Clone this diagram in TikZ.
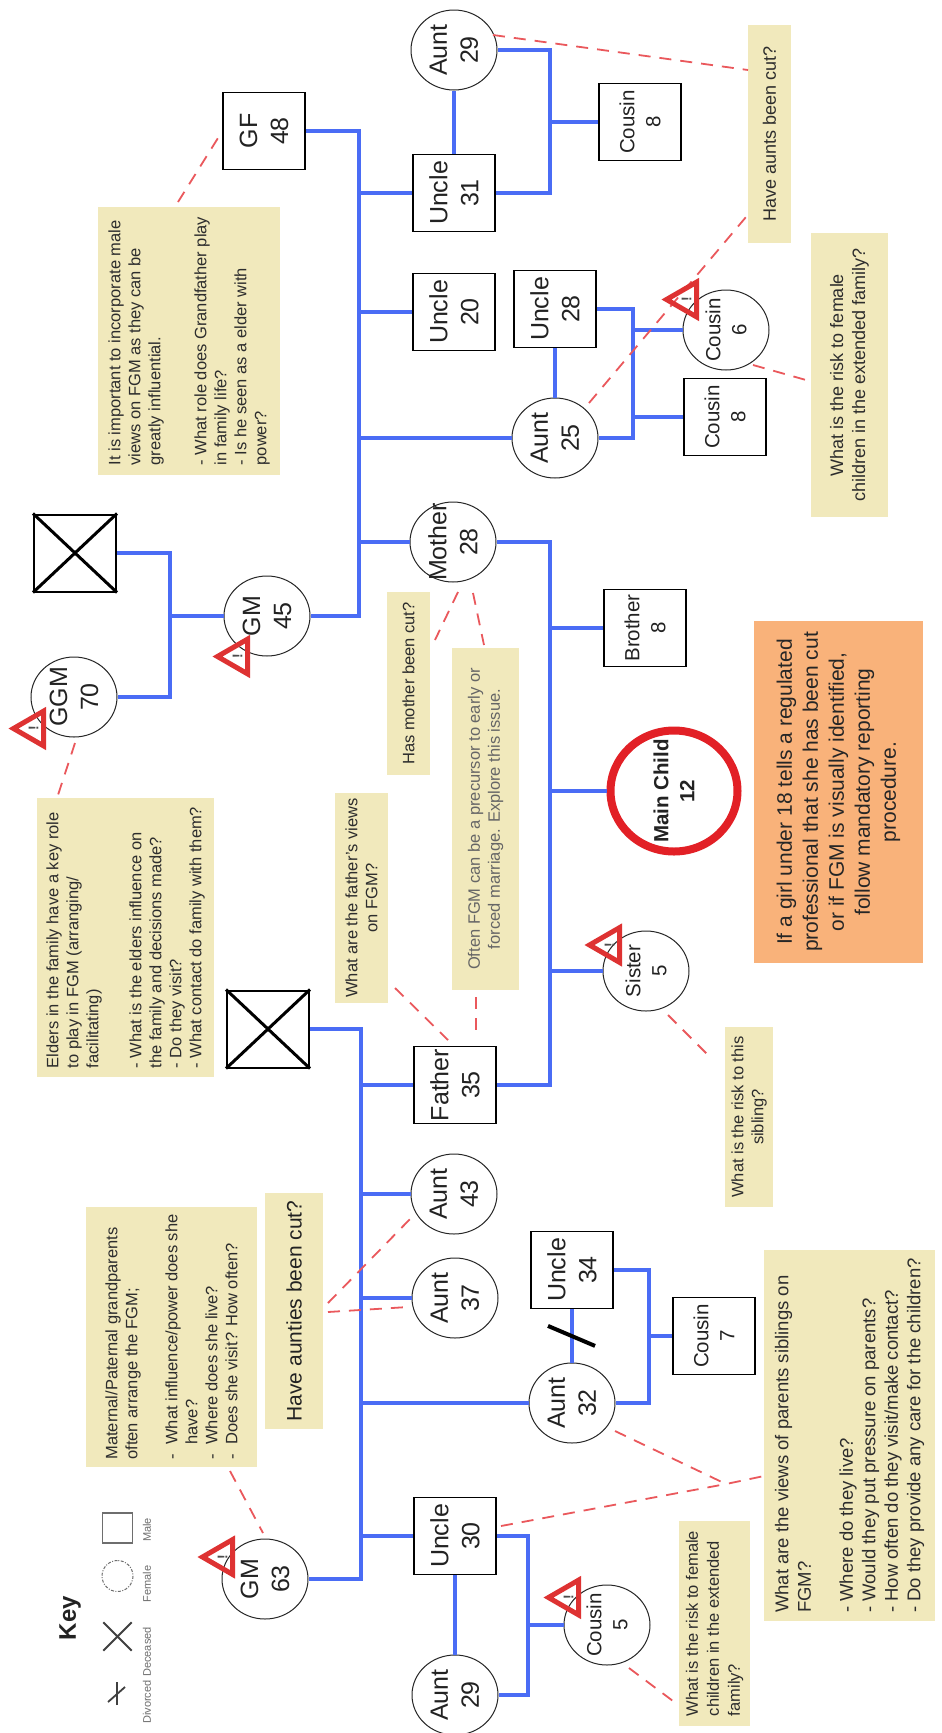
\documentclass[tikz,border=0pt]{standalone}
\usepackage{fontspec}
\setmainfont{Liberation Sans}
\usetikzlibrary{shapes.geometric,calc}
\definecolor{kin}{RGB}{74,108,245}
\definecolor{notefill}{RGB}{241,233,188}
\definecolor{orangefill}{RGB}{249,178,122}
\definecolor{dashred}{RGB}{234,88,92}
\definecolor{warnred}{RGB}{222,50,50}
\definecolor{ringred}{RGB}{226,32,38}
\definecolor{txt}{RGB}{34,34,34}
\definecolor{notetxt}{RGB}{45,45,45}
\definecolor{keygray}{RGB}{110,110,110}
\newcommand\zb[1]{\makebox[0pt]{#1}}
\tikzset{
 kinline/.style={draw=kin, line width=4.5pt},
 male/.style={draw=black, line width=1.6pt, fill=white, rectangle, minimum width=77pt, minimum height=82pt, inner sep=0pt, align=center, font=\fontsize{25}{31}\selectfont, text=txt},
 female/.style={draw=black!85, line width=1pt, fill=white, ellipse, minimum width=80pt, minimum height=86pt, inner sep=0pt, align=center, font=\fontsize{25}{31}\selectfont, text=txt},
 kid/.style={font=\fontsize{20.5}{26}\selectfont},
 mainchild/.style={draw=ringred, line width=8pt, fill=white, ellipse, minimum width=121pt, minimum height=127pt, inner sep=0pt, align=center, font=\bfseries\fontsize{20.5}{26}\selectfont, text=txt},
 deceased/.style={draw=black, line width=2pt, rectangle, minimum width=77pt, minimum height=82pt, inner sep=0pt},
 note/.style={fill=notefill, rectangle, inner sep=0pt, align=left, font=\fontsize{16.5}{20}\selectfont, text=notetxt},
 noteline/.style={draw=dashred, line width=1.8pt, dash pattern=on 12pt off 9pt},
 warn/.style={regular polygon, regular polygon sides=3, draw=warnred, line width=5pt, minimum size=40pt, inner sep=0pt, font=\bfseries\fontsize{14}{14}\selectfont, text=black!70},
 keylabel/.style={font=\fontsize{11}{13}\selectfont, text=keygray, inner sep=0pt},
}
\begin{document}
\begin{tikzpicture}[x=1pt,y=-1pt]
\begin{scope}[shift={(0pt,-1733pt)},rotate=90,transform shape]
\useasboundingbox (0,0) rectangle (1733,942);
\fill[white] (0,0) rectangle (1733,942);

% ---------- note boxes ----------
\node[note, minimum width=268pt, minimum height=182pt] (n1) at (1392,189) {It is important to incorporate male\\views on FGM as they can be\\greatly influential.\\[26pt]- What role does Grandfather play\\in family life?\\- Is he seen as a elder with\\power?};
\node[note, minimum width=279pt, minimum height=177pt] (n2) at (795.5,125.5) {Elders in the family have a key role\\to play in FGM (arranging/\\facilitating)\\[23pt]- What is the elders influence on\\the family and decisions made?\\- Do they visit?\\- What contact do family with them?};
\node[note, minimum width=260pt, minimum height=171pt] (n3) at (396,171.5) {Maternal/Paternal grandparents\\often arrange the FGM;\\[20pt]\makebox[15pt][l]{-}What influence/power does she\\\hspace*{15pt}have?\\\makebox[15pt][l]{-}Where does she live?\\\makebox[15pt][l]{-}Does she visit? How often?};
\node[note, font=\fontsize{18.5}{22.5}\selectfont, minimum width=371pt, minimum height=171pt] (n4) at (297.5,849.5) {What are the views of parents siblings on\\FGM?\\[19.5pt]- Where do they live?\\- Would they put pressure on parents?\\- How often do they visit/make contact?\\- Do they provide any care for the children?};
\node[note, align=center, text=black!60, minimum width=342pt, minimum height=67pt] (n5) at (914,485.5) {Often FGM can be a precursor to early or\\forced marriage. Explore this issue.};
\node[note, align=center, minimum width=210pt, minimum height=53pt] (n6) at (835,361.5) {What are the father's views\\on FGM?};
\node[note, minimum width=183pt, minimum height=43pt] (n7) at (1049.5,408.5) {Has mother been cut?};
\node[note, font=\fontsize{18}{22}\selectfont, minimum width=218pt, minimum height=43pt] (n8) at (1599,769.5) {Have aunts been cut?};
\node[note, align=center, font=\fontsize{18}{22}\selectfont, minimum width=284pt, minimum height=77pt] (n9) at (1358,849.5) {What is the risk to female\\children in the extended family?};
\node[note, font=\fontsize{16.5}{21}\selectfont, minimum width=205pt, minimum height=71pt] (n10) at (109.5,714.5) {What is the risk to female\\children in the extended\\family?};
\node[note, font=\fontsize{21}{25}\selectfont, text=txt, minimum width=236pt, minimum height=58pt] (n11) at (422,294) {Have aunties been cut?};
\node[note, fill=orangefill, align=center, font=\fontsize{21}{26}\selectfont, text=black!85, minimum width=342pt, minimum height=169pt] (n12) at (941,838.5) {If a girl under 18 tells a regulated\\professional that she has been cut\\or if FGM is visually identified,\\follow mandatory reporting\\procedure.};
\node[note, align=center, minimum width=180pt, minimum height=48pt] (n13) at (616,749) {What is the risk to this\\sibling?};

% ---------- people ----------
\node[male] (GF) at (1602,264) {GF\\48};
\node[deceased] (GGF) at (1180,75) {};
\node[female] (GGM) at (1036,74) {\zb{GGM}\\\zb{70}};
\node[female] (GM45) at (1117,267) {\zb{GM}\\\zb{45}};
\node[male] (U31) at (1540,454) {Uncle\\31};
\node[female] (A29a) at (1683,454) {\zb{Aunt}\\\zb{29}};
\node[male,kid] (C8a) at (1611,640) {Cousin\\8};
\node[male] (U20) at (1421,454) {Uncle\\20};
\node[female] (A25) at (1295,555) {\zb{Aunt}\\\zb{25}};
\node[male] (U28) at (1424,555) {Uncle\\28};
\node[female,kid] (C6) at (1403,726) {\zb{Cousin}\\\zb{6}};
\node[male,kid] (C8b) at (1316,725) {Cousin\\8};
\node[female] (M) at (1191,453) {\zb{Mother}\\\zb{28}};
\node[male,kid] (Br) at (1105,645) {Brother\\8};
\node[mainchild] (MC) at (942,674) {\zb{Main Child}\\\zb{12}};
\node[female,kid] (Si) at (762,646) {\zb{Sister}\\\zb{5}};
\node[male] (F) at (648,455) {Father\\35};
\node[deceased] (PGF) at (704,268) {};
\node[female] (A43) at (539,454) {\zb{Aunt}\\\zb{43}};
\node[female] (A37) at (435,455) {\zb{Aunt}\\\zb{37}};
\node[female] (A32) at (330,572) {\zb{Aunt}\\\zb{32}};
\node[male] (U34) at (463,572) {Uncle\\34};
\node[male,kid] (C7) at (397,714) {Cousin\\7};
\node[male] (U30) at (197,455) {Uncle\\30};
\node[female] (GM63) at (154,265) {\zb{GM}\\\zb{63}};
\node[female] (A29b) at (38,455) {\zb{Aunt}\\\zb{29}};
\node[female,kid] (C5) at (108,607) {\zb{Cousin}\\\zb{5}};

\foreach \d in {GGF,PGF}{
  \draw[line width=3pt] (\d.north west) -- (\d.south east) (\d.north east) -- (\d.south west);
}

% ---------- kinship lines ----------
\coordinate (mb) at (1400,359);
\draw[kinline] (GF.south) |- (mb) -| (GM45.south);
\foreach \c in {U31,U20,A25,M}{ \draw[kinline] (\c.north |- mb) -- (\c.north); }
\draw[kinline] (U31.east) -- (A29a.west);
\coordinate (c1) at (1611,550);
\draw[kinline] (A29a.south) |- (c1) -| (U31.south);
\draw[kinline] (c1) -- (C8a.north);
\draw[kinline] (U28.west) -- (A25.east);
\coordinate (c2) at (1403,633);
\draw[kinline] (U28.south) |- (c2) -| (A25.south);
\draw[kinline] (c2) -- (C6.north);
\draw[kinline] (C8b.north |- c2) -- (C8b.north);
\coordinate (c4) at (1117,170);
\draw[kinline] (GGF.south) |- (c4) -| (GGM.south);
\draw[kinline] (c4) -- (GM45.north);
\coordinate (c3) at (942,550);
\draw[kinline] (M.south) |- (c3) -| (F.south);
\draw[kinline] (Br.north |- c3) -- (Br.north);
\draw[kinline] (c3) -- (MC.north);
\draw[kinline] (Si.north |- c3) -- (Si.north);
\coordinate (pb) at (400,361);
\draw[kinline] (PGF.south) |- (pb) -| (GM63.south);
\foreach \c in {F,A43,A37,A32,U30}{ \draw[kinline] (\c.north |- pb) -- (\c.north); }
\draw[kinline] (U34.west) -- (A32.east);
\coordinate (c5) at (397,649);
\draw[kinline] (U34.south) |- (c5) -| (A32.south);
\draw[kinline] (c5) -- (C7.north);
\draw[kinline] (U30.west) -- (A29b.east);
\coordinate (c6) at (108,528);
\draw[kinline] (U30.south) |- (c6) -| (A29b.south);
\draw[kinline] (c6) -- (C5.north);
\coordinate (dv) at ($(U34.west)!0.5!(A32.east)$);
\draw[line width=4pt] ($(dv)+(10,-24)$) -- ($(dv)+(-10,23)$);

% ---------- dashed note connectors ----------
\draw[noteline] ($(n1)+(139,-11)$) -- ($(GF)+(-7,-46)$);
\draw[noteline] ($(GGM)+(-46,1)$) -- ($(n2)+(142.5,-67.5)$);
\draw[noteline] ($(M)+(-50,5)$) -- ($(n7)+(43.5,26.5)$);
\draw[noteline] ($(M)+(-51,20)$) -- ($(n5)+(174,-1.5)$);
\draw[noteline] ($(n5)+(-178,-9.5)$) -- ($(F)+(48,21)$);
\draw[noteline] ($(n6)+(-90,33.5)$) -- ($(F)+(45,-7)$);
\draw[noteline] ($(Si)+(-44,22)$) -- ($(n13)+(62,-41)$);
\draw[noteline] ($(A29a)+(15,39)$) -- ($(n8)+(64,-21.5)$);
\draw[noteline] ($(A25)+(35,34)$) -- ($(n8)+(-83,-23.5)$);
\draw[noteline] ($(C6)+(-35,27)$) -- ($(n9)+(-5,-43.5)$);
\draw[noteline] ($(n3)+(-134,58.5)$) -- ($(GM63)+(46,-2)$);
\draw[noteline] ($(n11)+(8,34)$) -- ($(A43)+(-22,-41)$);
\draw[noteline] ($(n11)+(-1,34)$) -- ($(A37)+(-9,-47)$);
\coordinate (vx) at (249,726);
\draw[noteline] ($(A32)+(-28,43)$) -- (vx) -- ($(n4)+(-40.5,-85.5)$);
\draw[noteline] ($(U30)+(10,46)$) -- (vx);
\draw[noteline] ($(C5)+(-43,22)$) -- ($(n10)+(-77.5,-41.5)$);

% ---------- warning signs ----------
\node[warn] (w1) at (1004.5,33.5) {!};
\node[warn] (w2) at (1076.5,237.5) {!};
\node[warn] (w3) at (1433.5,686.5) {!};
\node[warn] (w4) at (788,609.5) {!};
\node[warn] (w5) at (176,222.5) {!};
\node[warn] (w6) at (135.5,568.5) {!};

% ---------- key ----------
\node[font=\bfseries\fontsize{24}{28}\selectfont, text=txt, inner sep=0pt] (key) at (115,70) {Key};
\node[draw=keygray, line width=1.2pt, minimum size=30pt, inner sep=0pt] (kmale) at (205,117.5) {};
\node[draw=keygray, circle, line width=1pt, dash pattern=on 3pt off 1.5pt on 1pt off 1.5pt, minimum size=31pt, inner sep=0pt] (kfem) at (157,117.5) {};
\node[minimum size=28pt, inner sep=0pt] (kdec) at (96.5,117.5) {};
\draw[line width=1.8pt, black!75] (kdec.north west) -- (kdec.south east) (kdec.north east) -- (kdec.south west);
\node[minimum width=23pt, minimum height=2pt, inner sep=0pt] (kdiv) at (39.5,117) {};
\draw[line width=1.8pt, black!75] (kdiv.west) -- (kdiv.east);
\draw[line width=1.8pt, black!75] ($(kdiv)+(-8.5,-9)$) -- ($(kdiv)+(6.5,8)$);
\node[keylabel] (ldiv) at (31,147) {Divorced};
\node[keylabel] (ldec) at (81,147) {Deceased};
\node[keylabel] (lfem) at (149,147) {Female};
\node[keylabel] (lmale) at (203,147) {Male};
\end{scope}
\end{tikzpicture}
\end{document}
